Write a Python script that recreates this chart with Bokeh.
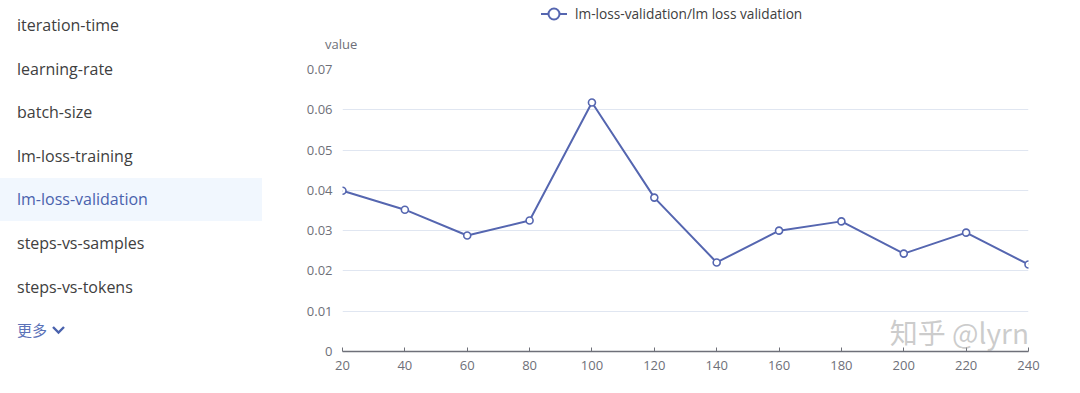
from bokeh.plotting import figure
from bokeh.layouts import row, column
from bokeh.models import (Range1d, FixedTicker, NumeralTickFormatter, Label,
                          ColumnDataSource, Div)
from bokeh.embed import file_html
from bokeh.resources import INLINE

# ---------------- data ----------------
steps = [20, 40, 60, 80, 100, 120, 140, 160, 180, 200, 220, 240]
loss = [0.0399, 0.0352, 0.0288, 0.0325, 0.0618, 0.0382,
        0.0221, 0.0300, 0.0323, 0.0243, 0.0295, 0.0216]
series_name = "lm-loss-validation/lm loss validation"
y_ticks = [0, 0.01, 0.02, 0.03, 0.04, 0.05, 0.06, 0.07]
x_ticks = [20, 40, 60, 80, 100, 120, 140, 160, 180, 200, 220, 240]
menu_items = ["iteration-time", "learning-rate", "batch-size", "lm-loss-training",
              "lm-loss-validation", "steps-vs-samples", "steps-vs-tokens"]
selected_item = "lm-loss-validation"
more_label = "更多"
y_axis_name = "value"
watermark = "知乎 @lyrn"

FONT = "Open Sans"
LINE_COLOR = "#5566b0"
AXIS_TEXT = "#6e7079"
TEXT = "#404040"
SEL_TEXT = "#4a62ad"

# ---------------- sidebar (HTML) ----------------
parts = ['<div style="position:relative;width:278px;height:393px;margin:0;padding:0;'
         'font-family:\'Open Sans\',sans-serif;">']
sel_idx = menu_items.index(selected_item)
item_y = [25 + 43.6 * i for i in range(len(menu_items))]
parts.append('<div style="position:absolute;left:0px;top:%.1fpx;width:262px;height:43px;'
             'background:#f1f7fe;"></div>' % (item_y[sel_idx] - 21))
for m, yc in zip(menu_items, item_y):
    col = SEL_TEXT if m == selected_item else TEXT
    parts.append('<div style="position:absolute;left:17px;top:%.1fpx;height:22px;'
                 'line-height:22px;font-size:16px;color:%s;white-space:nowrap;">%s</div>'
                 % (yc - 11, col, m))
more_y = 25 + 43.6 * len(menu_items)
parts.append('<div style="position:absolute;left:17px;top:%.1fpx;height:22px;line-height:22px;'
             'font-size:15px;color:#5b72b8;font-family:\'Noto Sans CJK SC\';white-space:nowrap;">%s</div>'
             % (more_y - 11, more_label))
parts.append('<svg style="position:absolute;left:50px;top:%.1fpx;" width="18" height="12">'
             '<polyline points="3,3 8.5,8.5 14,3" fill="none" stroke="%s" stroke-width="2.4"/></svg>'
             % (more_y - 6, SEL_TEXT))
parts.append('</div>')
side = Div(text="".join(parts), width=278, height=393, margin=0)

# ---------------- top strip: legend + y-axis name ----------------
top_html = (
    '<div style="position:relative;width:802px;height:52px;margin:0;padding:0;'
    'font-family:\'Open Sans\',sans-serif;">'
    '<svg style="position:absolute;left:262px;top:6px;" width="30" height="16">'
    '<line x1="1" y1="8" x2="27" y2="8" stroke="%s" stroke-width="2"/>'
    '<circle cx="14" cy="8" r="5.5" fill="white" stroke="%s" stroke-width="2"/></svg>'
    '<div style="position:absolute;left:297px;top:4px;height:20px;line-height:20px;'
    'font-size:13.7px;color:%s;white-space:nowrap;">%s</div>'
    '<div style="position:absolute;left:47px;top:34px;height:20px;line-height:20px;'
    'font-size:13px;color:%s;white-space:nowrap;">%s</div>'
    '</div>'
) % (LINE_COLOR, LINE_COLOR, TEXT, series_name, AXIS_TEXT, y_axis_name)
top = Div(text=top_html, width=802, height=52, margin=0)

# ---------------- chart ----------------
p = figure(width=802, height=341, x_range=Range1d(20, 240), y_range=Range1d(0, 0.07),
           output_backend="svg", toolbar_location=None,
           min_border_left=64, min_border_right=52, min_border_top=17, min_border_bottom=42)
p.outline_line_color = None
p.xgrid.visible = False
p.ygrid.ticker = FixedTicker(ticks=y_ticks)
p.ygrid.grid_line_color = "#e0e6f1"
p.ygrid.grid_line_width = 1

p.yaxis.ticker = FixedTicker(ticks=y_ticks)
p.yaxis.formatter = NumeralTickFormatter(format="0.[00]")
p.yaxis.axis_line_color = None
p.yaxis.major_tick_line_color = None
p.yaxis.major_tick_out = 0
p.yaxis.major_tick_in = 0
p.yaxis.minor_tick_line_color = None
p.yaxis.major_label_text_font = FONT
p.yaxis.major_label_text_font_size = "13px"
p.yaxis.major_label_text_color = AXIS_TEXT
p.yaxis.major_label_standoff = 10

p.xaxis.ticker = FixedTicker(ticks=x_ticks)
p.xaxis.axis_line_color = AXIS_TEXT
p.xaxis.axis_line_width = 1.5
p.xaxis.major_tick_line_color = AXIS_TEXT
p.xaxis.major_tick_in = 4
p.xaxis.major_tick_out = 0
p.xaxis.minor_tick_line_color = None
p.xaxis.major_label_text_font = FONT
p.xaxis.major_label_text_font_size = "13px"
p.xaxis.major_label_text_color = AXIS_TEXT
p.xaxis.major_label_standoff = 9

src = ColumnDataSource(dict(step=steps, loss=loss))
p.line("step", "loss", source=src, line_color=LINE_COLOR, line_width=2)
p.scatter("step", "loss", source=src, size=7, fill_color="white",
          line_color=LINE_COLOR, line_width=1.6)

p.add_layout(Label(x=195.5, y=0.0, text=watermark, text_font="Noto Sans CJK SC",
                   text_font_size="28px", text_color="#9a9a9a", text_alpha=0.5,
                   text_baseline="bottom", text_align="left"))

layout = row(side, column(top, p, spacing=0), spacing=0)
open("out.html", "w").write(file_html(layout, INLINE))
